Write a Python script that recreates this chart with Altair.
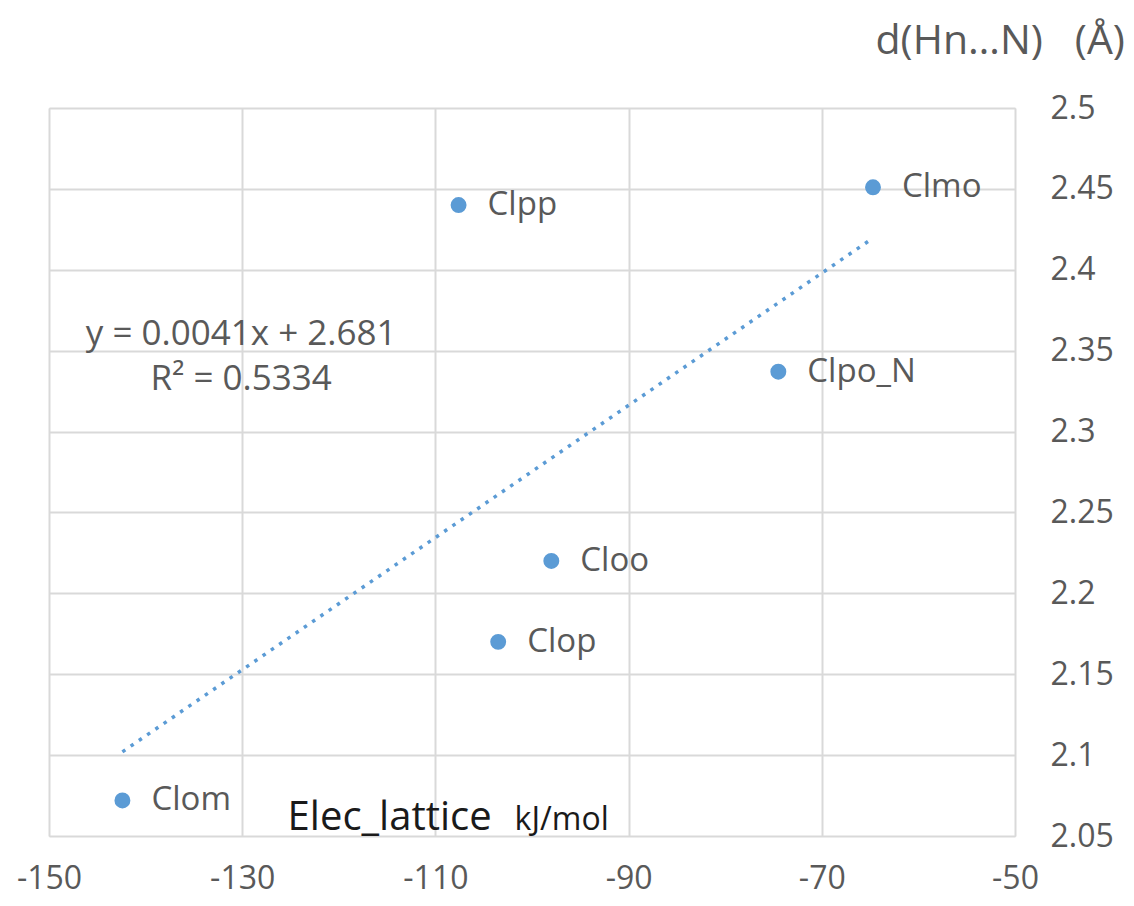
import altair as alt
import pandas as pd

# ---- data ----
names = ["Clom", "Clop", "Cloo", "Clpp", "Clpo_N", "Clmo"]
elec_lattice = [-142.4, -103.5, -98.0, -107.6, -74.5, -64.7]
d_hn_n = [2.072, 2.170, 2.220, 2.440, 2.337, 2.451]

x_ticks = [-150, -130, -110, -90, -70, -50]
y_ticks = [2.05, 2.1, 2.15, 2.2, 2.25, 2.3, 2.35, 2.4, 2.45, 2.5]

eq_lines = ["y = 0.0041x + 2.681", "R\u00b2 = 0.5334"]
eq_x = [-130.1, -130.1]
eq_y = [2.3605, 2.3325]

xname_text = ["Elec_lattice"]
xname_x = [-125.3]
xname_y = [2.054]
xunit_text = ["kJ/mol"]
xunit_x = [-101.8]
xunit_y = [2.054]

y_title = "d(Hn\u2026N)\u00a0\u00a0\u00a0(\u00c5)"

BLUE = "#5B9BD5"
GREY = "#595959"
FONT = "Open Sans"

df = pd.DataFrame({"name": names, "x": elec_lattice, "y": d_hn_n})
eq_df = pd.DataFrame({"t": eq_lines, "x": eq_x, "y": eq_y})
xname_df = pd.DataFrame({"t": xname_text, "x": xname_x, "y": xname_y})
xunit_df = pd.DataFrame({"t": xunit_text, "x": xunit_x, "y": xunit_y})

xscale = alt.Scale(domain=[-150, -50], nice=False, zero=False)
yscale = alt.Scale(domain=[2.05, 2.5], nice=False, zero=False)

x_enc = alt.X(
    "x:Q", scale=xscale, title=None,
    axis=alt.Axis(values=x_ticks, labelExpr="'' + datum.value", grid=True, domain=False,
                  ticks=False, tickSize=0, labelFontSize=32, labelColor=GREY,
                  labelFont=FONT, labelPadding=52, labelBaseline="alphabetic",
                  gridColor="#D9D9D9", gridWidth=2, labelFlush=False,
                  labelOverlap=False),
)
y_enc = alt.Y(
    "y:Q", scale=yscale, title=y_title,
    axis=alt.Axis(orient="right", values=y_ticks, format=".2~f", grid=True, domain=False,
                  ticks=False, tickSize=0, labelFontSize=32, labelColor=GREY,
                  labelFont=FONT, labelPadding=35, labelAlign="left",
                  gridColor="#D9D9D9", gridWidth=2, labelFlush=False, labelOverlap=False,
                  titleAngle=0, titleAlign="left", titleBaseline="alphabetic",
                  titleX=-140, titleY=-55, titleFontSize=41, titleFontWeight="normal",
                  titleColor=GREY, titleFont=FONT),
)

base = alt.Chart(df)

trend = base.transform_regression("x", "y").mark_line(
    color=BLUE, strokeWidth=3.5, strokeDash=[3.5, 6.5]
).encode(x=x_enc, y=y_enc)

points = base.mark_circle(size=254, color=BLUE, opacity=1).encode(x=x_enc, y=y_enc)

labels = base.mark_text(
    align="left", baseline="middle", dx=29, fontSize=33, font=FONT, color=GREY
).encode(x=x_enc, y=y_enc, text="name:N")

eq = alt.Chart(eq_df).mark_text(
    align="center", baseline="middle", fontSize=35, font=FONT, color=GREY
).encode(x=x_enc, y=y_enc, text="t:N")

xname = alt.Chart(xname_df).mark_text(
    align="left", baseline="alphabetic", fontSize=40, font=FONT, color="#1A1A1A"
).encode(x=x_enc, y=y_enc, text="t:N")

xunit = alt.Chart(xunit_df).mark_text(
    align="left", baseline="alphabetic", fontSize=32, font=FONT, color="#1A1A1A"
).encode(x=x_enc, y=y_enc, text="t:N")

chart = alt.layer(trend, points, labels, eq, xname, xunit).properties(
    width=966,
    height=728,
    autosize=alt.AutoSizeParams(type="none"),
    padding={"left": 41, "top": 100, "right": 111, "bottom": 62},
    background="white",
).configure_view(stroke=None).configure(font=FONT)

chart.save("out.html", embed_options={"renderer": "svg", "actions": False})
